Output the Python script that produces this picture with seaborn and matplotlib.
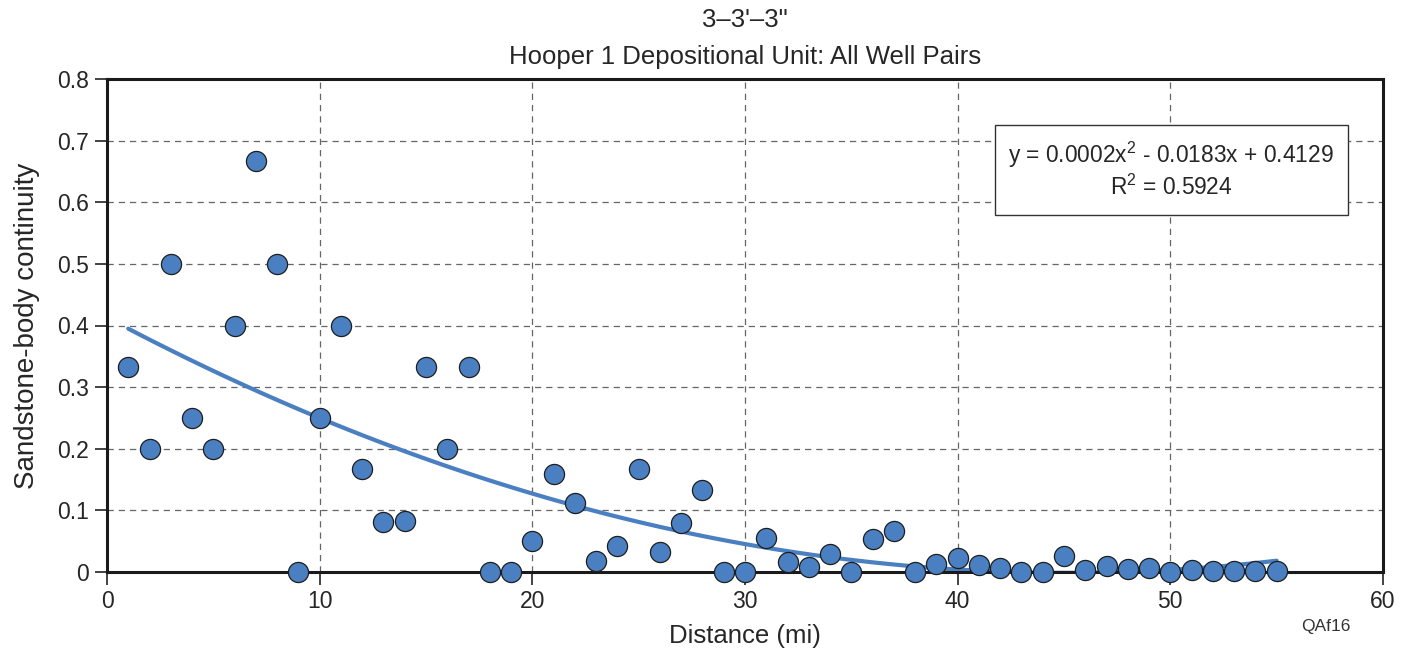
import numpy as np
import pandas as pd
import matplotlib
matplotlib.use("Agg")
import matplotlib.pyplot as plt
import seaborn as sns
from matplotlib.patches import Rectangle
from matplotlib.ticker import FuncFormatter

#### Data
distance = list(range(1, 56))
continuity = [0.333, 0.200, 0.500, 0.250, 0.200, 0.400, 0.667, 0.500, 0.000, 0.250,
              0.400, 0.167, 0.081, 0.083, 0.333, 0.200, 0.333, 0.000, 0.000, 0.050,
              0.159, 0.112, 0.018, 0.042, 0.167, 0.032, 0.080, 0.133, 0.000, 0.000,
              0.055, 0.016, 0.008, 0.029, 0.000, 0.054, 0.067, 0.000, 0.013, 0.022,
              0.011, 0.006, 0.000, 0.000, 0.026, 0.003, 0.010, 0.005, 0.006, 0.000,
              0.003, 0.002, 0.002, 0.002, 0.002]
x_ticks = [0, 10, 20, 30, 40, 50, 60]
y_ticks = [0, 0.1, 0.2, 0.3, 0.4, 0.5, 0.6, 0.7, 0.8]
eq_line = "y = 0.0002x$^{2}$ - 0.0183x + 0.4129"
r2_line = "R$^{2}$ = 0.5924"

df = pd.DataFrame({"distance": distance, "continuity": continuity})

#### Style
sns.set_theme(style="ticks")
plt.rcParams["font.family"] = ["Liberation Sans", "DejaVu Sans"]
plt.rcParams["mathtext.fontset"] = "custom"
plt.rcParams["mathtext.rm"] = "Liberation Sans"
plt.rcParams["mathtext.it"] = "Liberation Sans"

point_color = "#4a7fc1"

fig = plt.figure(figsize=(14.09, 6.52), dpi=100)
ax = fig.add_axes([107 / 1409, 1 - 572 / 652, (1383 - 107) / 1409, (572 - 79) / 652])

# grid behind everything
ax.set_axisbelow(True)
ax.grid(True, linestyle=(0, (5, 4)), color="#666666", linewidth=0.9)

# second-order trend line
sns.regplot(data=df, x="distance", y="continuity", order=2, ci=None,
            scatter=False, ax=ax, line_kws={"color": point_color, "linewidth": 3.0,
                                            "zorder": 2})

sns.scatterplot(data=df, x="distance", y="continuity", ax=ax, s=210,
                color=point_color, edgecolor="#1e1e1e", linewidth=0.9,
                zorder=3, clip_on=False)

ax.set_xlim(0, 60)
ax.set_ylim(0, 0.8)
ax.set_xticks(x_ticks)
ax.set_yticks(y_ticks)
ax.yaxis.set_major_formatter(FuncFormatter(lambda v, p: "0" if v == 0 else f"{v:.1f}"))
ax.tick_params(axis="both", labelsize=16.5, length=9, width=1.2, direction="out",
               color="#222222", pad=4)

for side in ["left", "right", "top", "bottom"]:
    ax.spines[side].set_linewidth(2.2)
    ax.spines[side].set_color("#1a1a1a")

ax.set_xlabel("Distance (mi)", fontsize=18.5, labelpad=8)
ax.set_ylabel("Sandstone-body continuity", fontsize=20, labelpad=12)

# titles centred over the plot area
title_x = (107 + 1383) / 2 / 1409
fig.text(title_x, 1 - 20 / 652, "3\u20133'\u20133\"", ha="center", va="center",
         fontsize=18.5)
fig.text(title_x, 1 - 57 / 652, "Hooper 1 Depositional Unit: All Well Pairs",
         ha="center", va="center", fontsize=18.5)

# equation box
ax.add_patch(Rectangle((0.696, 0.7241), 0.9726 - 0.696, 0.9067 - 0.7241,
                       transform=ax.transAxes, facecolor="white", edgecolor="#333333",
                       linewidth=1.0, zorder=4))
ax.text(0.834, 0.846, eq_line, transform=ax.transAxes, ha="center", va="center",
        fontsize=16.4, zorder=5)
ax.text(0.834, 0.781, r2_line, transform=ax.transAxes, ha="center", va="center",
        fontsize=16.4, zorder=5)

fig.text(1326 / 1409, 1 - 627 / 652, "QAf16", ha="center", va="center", fontsize=12.5,
         color="#333333")

fig.savefig("out.png", dpi=100)
